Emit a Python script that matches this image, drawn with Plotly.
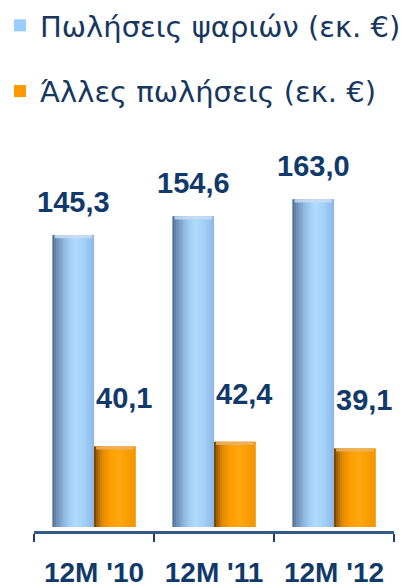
import plotly.graph_objects as go

# ---- data ----
categories = ["12M '10", "12M '11", "12M '12"]
fish_sales = [145.3, 154.6, 163.0]
other_sales = [40.1, 42.4, 39.1]
series_names = ["Πωλήσεις ψαριών (εκ. €)", "Άλλες πωλήσεις (εκ. €)"]

# ---- style ----
NAVY = "#113a6b"
BAR_W = 0.346
N_STRIPS = 20
CAP = 1.6  # height of the cylinder lip, in axis units
blue_stops = [(0.0, "#4a6487"), (0.1, "#6a8ab0"), (0.3, "#94bde6"),
              (0.55, "#b3deff"), (0.8, "#a2cdf6"), (1.0, "#8ab7e6")]
orange_stops = [(0.0, "#6a4000"), (0.08, "#a06000"), (0.2, "#e08800"),
                (0.4, "#ffa000"), (0.6, "#ffa810"), (1.0, "#f39500")]


def hex2rgb(h):
    h = h.lstrip("#")
    return tuple(int(h[i:i + 2], 16) for i in (0, 2, 4))


def grad(stops, t):
    for (p0, c0), (p1, c1) in zip(stops[:-1], stops[1:]):
        if p0 <= t <= p1:
            f = (t - p0) / (p1 - p0)
            a, b = hex2rgb(c0), hex2rgb(c1)
            return "rgb(%d,%d,%d)" % tuple(round(a[k] + (b[k] - a[k]) * f) for k in range(3))
    return stops[-1][1]


fig = go.Figure()

series = [
    (fish_sales, series_names[0], "#99ccff", blue_stops, -BAR_W, "#c9ddf2"),
    (other_sales, series_names[1], "#ff9900", orange_stops, 0.0, "#e9b46a"),
]

for gi, (vals, name, base_col, stops, off, cap_col) in enumerate(series):
    # base (legend) bar
    fig.add_trace(go.Bar(
        x=categories, y=vals, name=name, legendgroup=name,
        marker=dict(color=base_col, line=dict(width=0)),
        width=BAR_W, offset=off, showlegend=True, hoverinfo="skip",
    ))
    # cylinder shading strips
    sw = BAR_W / N_STRIPS
    for i in range(N_STRIPS):
        fig.add_trace(go.Bar(
            x=categories, y=vals, legendgroup=name, showlegend=False,
            marker=dict(color=grad(stops, (i + 0.5) / N_STRIPS), line=dict(width=0)),
            width=sw * 1.05, offset=off + i * sw, hoverinfo="skip",
        ))
    # lighter lip at the top of each cylinder
    fig.add_trace(go.Bar(
        x=categories, y=[CAP] * len(vals), base=[v - CAP for v in vals],
        legendgroup=name, showlegend=False,
        marker=dict(color=cap_col, line=dict(width=0)), opacity=0.85,
        width=BAR_W * 0.9, offset=off + BAR_W * 0.05, hoverinfo="skip",
    ))

# value labels
for idx, cat in enumerate(categories):
    fig.add_annotation(x=idx, y=fish_sales[idx], xref="x", yref="y",
                       text=f"{fish_sales[idx]:.1f}".replace(".", ","),
                       showarrow=False, yanchor="middle", xanchor="center",
                       xshift=-21, yshift=33,
                       font=dict(family="Liberation Sans, Arial", size=29, color=NAVY, weight="bold"))
    fig.add_annotation(x=idx, y=other_sales[idx], xref="x", yref="y",
                       text=f"{other_sales[idx]:.1f}".replace(".", ","),
                       showarrow=False, yanchor="middle", xanchor="center",
                       xshift=30, yshift=48,
                       font=dict(family="Liberation Sans, Arial", size=29, color=NAVY, weight="bold"))

fig.update_layout(
    width=404, height=588,
    margin=dict(l=34, r=10, t=150, b=57, autoexpand=False),
    paper_bgcolor="white", plot_bgcolor="white",
    barmode="overlay",
    showlegend=True,
    legend=dict(
        xref="container", yref="container", x=0.0, y=1.0,
        xanchor="left", yanchor="top",
        font=dict(family="DejaVu Sans", size=29, color="#17375e"),
        traceorder="grouped", tracegroupgap=25,
        bgcolor="rgba(0,0,0,0)",
    ),
    xaxis=dict(
        type="category", range=[-0.5, 2.5],
        showline=True, linecolor="#34598a", linewidth=3,
        ticks="outside", tickson="boundaries", ticklen=8, tickwidth=2,
        tickcolor="#1f3f6a", showgrid=False,
        tickfont=dict(family="Liberation Sans, Arial", size=28, color=NAVY, weight="bold"),
        ticklabelstandoff=14,
    ),
    yaxis=dict(range=[-1.99, 187.56], visible=False, showgrid=False, zeroline=False),
)

fig.write_html("out.html")
